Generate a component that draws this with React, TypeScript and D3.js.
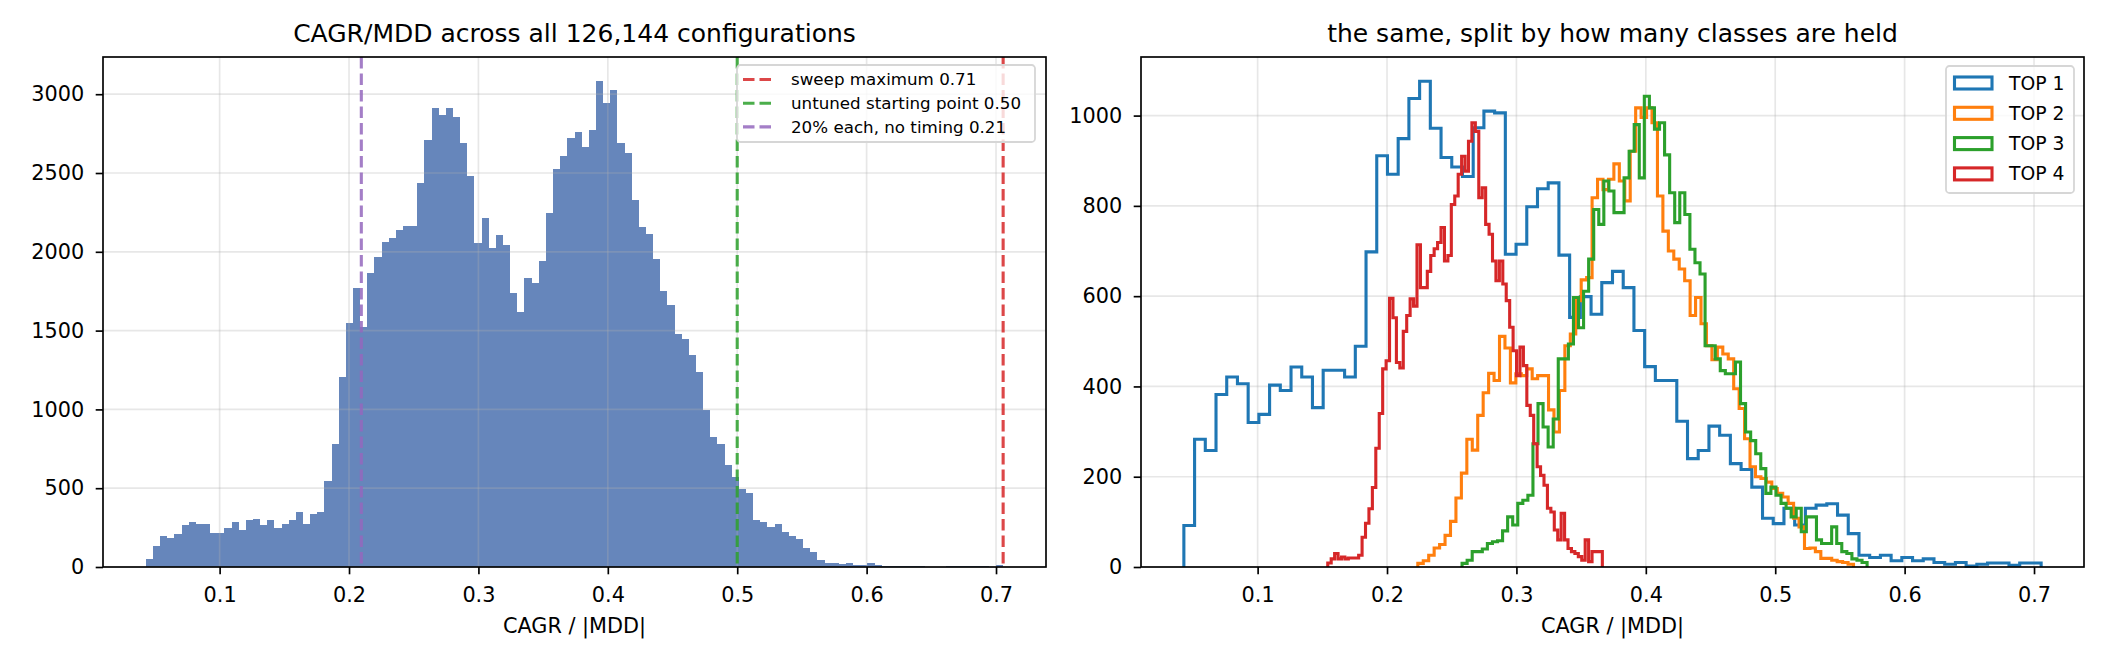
import React, { useEffect, useRef } from 'react';
import * as d3 from 'd3';

const WIDTH = 2114;
const HEIGHT = 662;
const FONT = 'DejaVu Sans, Liberation Sans, sans-serif';

// all configurations: 120 equal bins between the sweep minimum and maximum
const allRange = [0.043, 0.7055];
const allCounts = [
  53, 133, 194, 184, 207, 268, 285, 275, 275, 215, 215, 245, 285, 234, 296, 304, 266, 296, 245, 275, 296, 346, 275, 338, 346,
  547, 779, 1206, 1548, 1772, 1525, 1865, 1964, 2062, 2087, 2136, 2166, 2166, 2439, 2712, 2912, 2870, 2912, 2854, 2690, 2478, 2058, 2216, 2024, 2104,
  2041, 1741, 1618, 1833, 1802, 1943, 2247, 2526, 2610, 2720, 2758, 2663, 2773, 3082, 2943, 3024, 2690, 2630, 2326, 2157, 2115, 1956, 1750, 1660, 1480,
  1447, 1347, 1236, 997, 824, 781, 648, 570, 496, 469, 296, 285, 253, 275, 222, 194, 180, 122, 95, 42, 25, 25, 21, 25, 15,
  15, 25, 10, 8, 8, 6, 6, 5, 4, 0, 0, 0, 8, 8, 8, 8, 8, 8, 3, 10,
];

// reference lines on the left panel
const refValues = [0.7055, 0.5, 0.2095];
const refLabels = ['sweep maximum 0.71', 'untuned starting point 0.50', '20% each, no timing 0.21'];
const refColors = ['#d62728', '#2ca02c', '#9467bd'];

// split by number of classes held: 80 bins each over its own range
const classNames = ['TOP 1', 'TOP 2', 'TOP 3', 'TOP 4'];
const classColors = ['#1f77b4', '#ff7f0e', '#2ca02c', '#d62728'];
const classRanges = [
  [0.043, 0.7055],
  [0.2238, 0.5605],
  [0.258, 0.571],
  [0.1542, 0.3664],
];
const top1Counts = [
  92, 283, 258, 382, 421, 406, 320, 338, 403, 391,
  443, 421, 353, 436, 436, 421, 489, 698, 911, 870,
  949, 1038, 1076, 972, 907, 886, 865, 973, 1010, 1006,
  693, 715, 798, 838, 851, 691, 553, 599, 560, 630,
  655, 619, 524, 444, 413, 413, 323, 240, 258, 312,
  292, 229, 216, 177, 108, 96, 130, 93, 130, 137,
  140, 115, 74, 26, 21, 26, 14, 21, 14, 18,
  10, 6, 10, 2, 6, 9, 9, 4, 9, 9,
];
const top2Counts = [
  8, 14, 26, 42, 50, 70, 101, 153, 208, 283,
  259, 336, 386, 429, 413, 511, 485, 408, 428, 424,
  439, 417, 424, 424, 348, 299, 391, 490, 516, 590,
  636, 641, 818, 859, 836, 859, 893, 855, 811, 921,
  1017, 996, 1017, 984, 822, 744, 700, 682, 660, 634,
  557, 597, 539, 490, 459, 487, 472, 461, 395, 351,
  284, 222, 200, 196, 188, 174, 163, 155, 141, 108,
  89, 41, 42, 34, 19, 19, 15, 12, 10, 6,
];
const top3Counts = [
  8, 15, 34, 34, 40, 52, 56, 58, 80, 111,
  93, 141, 148, 159, 273, 362, 310, 266, 328, 461,
  461, 494, 597, 530, 611, 682, 792, 759, 855, 833,
  785, 785, 862, 921, 980, 862, 1043, 1017, 970, 984,
  913, 829, 763, 829, 781, 704, 674, 649, 490, 490,
  461, 435, 428, 428, 454, 362, 299, 280, 251, 218,
  163, 177, 159, 141, 130, 111, 130, 78, 111, 111,
  60, 52, 52, 89, 52, 34, 30, 18, 15, 10,
];
const top4Counts = [
  9, 18, 30, 18, 22, 18, 20, 20, 20, 26,
  66, 97, 129, 176, 263, 340, 439, 457, 595, 552,
  453, 441, 522, 557, 594, 578, 714, 619, 619, 655,
  690, 705, 719, 752, 678, 690, 803, 822, 870, 910,
  877, 943, 984, 965, 818, 840, 759, 737, 678, 634,
  678, 627, 590, 531, 479, 424, 487, 446, 358, 336,
  273, 222, 203, 181, 130, 122, 82, 60, 119, 60,
  41, 34, 30, 23, 15, 60, 12, 34, 34, 34,
];
const classCounts = [top1Counts, top2Counts, top3Counts, top4Counts];

const xTicks = [0.1, 0.2, 0.3, 0.4, 0.5, 0.6, 0.7];
const leftYTicks = [0, 500, 1000, 1500, 2000, 2500, 3000];
const rightYTicks = [0, 200, 400, 600, 800, 1000];

const leftTitle = 'CAGR/MDD across all 126,144 configurations';
const rightTitle = 'the same, split by how many classes are held';
const xLabel = 'CAGR / |MDD|';

// layout (pixels)
const PLOT_TOP = 57;
const PLOT_BOTTOM = 567;
const PLOT_W = 943;
const LEFT_X0 = 103;
const RIGHT_X0 = 1141;
const LW = 3.1;
const SPINE = 1.67;

const binEdges = (lo: number, hi: number, n: number) =>
  d3.range(n + 1).map(i => lo + ((hi - lo) * i) / n);

type G = d3.Selection<SVGGElement, unknown, null, undefined>;

function makeScales(x0: number, yMax: number) {
  const span = allRange[1] - allRange[0];
  const x = d3.scaleLinear()
    .domain([allRange[0] - span * 0.05, allRange[1] + span * 0.05])
    .range([x0, x0 + PLOT_W]);
  const y = d3.scaleLinear()
    .domain([0, yMax * 1.05])
    .range([PLOT_BOTTOM, PLOT_TOP]);
  return { x, y };
}

function drawGrid(g: G, x: d3.ScaleLinear<number, number>, y: d3.ScaleLinear<number, number>, yTicks: number[]) {
  const grid = g.append('g')
    .attr('stroke', '#b0b0b0')
    .attr('stroke-opacity', 0.3)
    .attr('stroke-width', SPINE);
  grid.selectAll('line.gx')
    .data(xTicks)
    .join('line')
    .attr('class', 'gx')
    .attr('x1', d => x(d)).attr('x2', d => x(d))
    .attr('y1', PLOT_TOP).attr('y2', PLOT_BOTTOM);
  grid.selectAll('line.gy')
    .data(yTicks)
    .join('line')
    .attr('class', 'gy')
    .attr('x1', x.range()[0]).attr('x2', x.range()[1])
    .attr('y1', d => y(d)).attr('y2', d => y(d));
}

function drawAxes(g: G, x: d3.ScaleLinear<number, number>, y: d3.ScaleLinear<number, number>, yTicks: number[], title: string) {
  const [xa, xb] = x.range();

  g.append('rect')
    .attr('x', xa).attr('y', PLOT_TOP)
    .attr('width', xb - xa).attr('height', PLOT_BOTTOM - PLOT_TOP)
    .attr('fill', 'none')
    .attr('stroke', '#000')
    .attr('stroke-width', SPINE);

  const styleAxis = (sel: G) => {
    sel.select('.domain').remove();
    sel.selectAll('line').attr('stroke', '#000').attr('stroke-width', SPINE);
    sel.selectAll('text')
      .attr('fill', '#000')
      .style('font-family', FONT)
      .style('font-size', '20.8px');
  };

  g.append('g')
    .attr('transform', `translate(0,${PLOT_BOTTOM})`)
    .call(d3.axisBottom(x).tickValues(xTicks).tickSize(7.3).tickSizeOuter(0).tickPadding(12.9).tickFormat(d3.format('.1f')))
    .call(styleAxis);

  g.append('g')
    .attr('transform', `translate(${xa},0)`)
    .call(d3.axisLeft(y).tickValues(yTicks).tickSize(7.3).tickSizeOuter(0).tickPadding(11.5).tickFormat(d3.format('d')))
    .call(styleAxis);

  g.append('text')
    .attr('x', (xa + xb) / 2).attr('y', 42)
    .attr('text-anchor', 'middle')
    .style('font-family', FONT)
    .style('font-size', '25px')
    .text(title);

  g.append('text')
    .attr('x', (xa + xb) / 2).attr('y', 633)
    .attr('text-anchor', 'middle')
    .style('font-family', FONT)
    .style('font-size', '20.8px')
    .text(xLabel);
}

const App: React.FC = () => {
  const svgRef = useRef<SVGSVGElement>(null);

  useEffect(() => {
    document.body.style.margin = '0';
    if (!svgRef.current) return;

    const svg = d3.select(svgRef.current);
    svg.selectAll('*').remove();
    const root = svg.append('g') as G;

    // ---------- left panel: filled histogram ----------
    const left = makeScales(LEFT_X0, d3.max(allCounts) as number);
    const edges = binEdges(allRange[0], allRange[1], allCounts.length);
    const bars = allCounts.map((c, i) => ({ x0: edges[i], x1: edges[i + 1], c }));

    root.append('g')
      .attr('opacity', 0.85)
      .selectAll('rect')
      .data(bars.filter(b => b.c > 0))
      .join('rect')
      .attr('x', d => left.x(d.x0))
      .attr('width', d => left.x(d.x1) - left.x(d.x0))
      .attr('y', d => left.y(d.c))
      .attr('height', d => left.y(0) - left.y(d.c))
      .attr('fill', '#4C72B0')
      .attr('shape-rendering', 'crispEdges');

    drawGrid(root, left.x, left.y, leftYTicks);

    root.append('g')
      .selectAll('line')
      .data(refValues)
      .join('line')
      .attr('x1', d => left.x(d)).attr('x2', d => left.x(d))
      .attr('y1', PLOT_TOP).attr('y2', PLOT_BOTTOM)
      .attr('stroke', (_, i) => refColors[i])
      .attr('stroke-opacity', 0.85)
      .attr('stroke-width', LW)
      .attr('stroke-dasharray', '11.5 5');

    drawAxes(root, left.x, left.y, leftYTicks, leftTitle);

    // legend for the reference lines
    const lg = root.append('g');
    lg.append('rect')
      .attr('x', 737).attr('y', 65).attr('width', 298).attr('height', 77)
      .attr('rx', 3.5)
      .attr('fill', '#fff').attr('fill-opacity', 0.8)
      .attr('stroke', '#d6d6d6').attr('stroke-width', 1.8);
    const lrow = lg.selectAll('g.row')
      .data(refLabels)
      .join('g')
      .attr('class', 'row')
      .attr('transform', (_, i) => `translate(0,${79.5 + i * 23.7})`);
    lrow.append('line')
      .attr('x1', 743).attr('x2', 776)
      .attr('stroke', (_, i) => refColors[i])
      .attr('stroke-opacity', 0.85)
      .attr('stroke-width', LW)
      .attr('stroke-dasharray', '11.5 5');
    lrow.append('text')
      .attr('x', 791).attr('dy', '0.35em')
      .style('font-family', FONT)
      .style('font-size', '16.7px')
      .text(d => d);

    // ---------- right panel: step histograms per class ----------
    const right = makeScales(RIGHT_X0, d3.max(classCounts.flat()) as number);
    drawGrid(root, right.x, right.y, rightYTicks);

    const line = d3.line<[number, number]>()
      .x(d => right.x(d[0]))
      .y(d => right.y(d[1]));

    classCounts.forEach((counts, k) => {
      const e = binEdges(classRanges[k][0], classRanges[k][1], counts.length);
      const pts: [number, number][] = [[e[0], 0]];
      counts.forEach((c, i) => {
        pts.push([e[i], c]);
        pts.push([e[i + 1], c]);
      });
      pts.push([e[e.length - 1], 0]);
      root.append('path')
        .attr('d', line(pts))
        .attr('fill', 'none')
        .attr('stroke', classColors[k])
        .attr('stroke-width', LW)
        .attr('stroke-linejoin', 'miter');
    });

    drawAxes(root, right.x, right.y, rightYTicks, rightTitle);

    const rg = root.append('g');
    rg.append('rect')
      .attr('x', 1946).attr('y', 66).attr('width', 128).attr('height', 127)
      .attr('rx', 3.5)
      .attr('fill', '#fff').attr('fill-opacity', 0.8)
      .attr('stroke', '#d6d6d6').attr('stroke-width', 1.8);
    const rrow = rg.selectAll('g.row')
      .data(classNames)
      .join('g')
      .attr('class', 'row')
      .attr('transform', (_, i) => `translate(0,${83 + i * 30.3})`);
    rrow.append('rect')
      .attr('x', 1954.5).attr('y', -6).attr('width', 37.5).attr('height', 12)
      .attr('fill', 'none')
      .attr('stroke', (_, i) => classColors[i])
      .attr('stroke-width', LW);
    rrow.append('text')
      .attr('x', 2009).attr('dy', '0.35em')
      .style('font-family', FONT)
      .style('font-size', '18.75px')
      .text(d => d);
  }, []);

  return (
    <svg
      ref={svgRef}
      width={WIDTH}
      height={HEIGHT}
      style={{ display: 'block', background: '#fff' }}
    />
  );
};

export default App;
